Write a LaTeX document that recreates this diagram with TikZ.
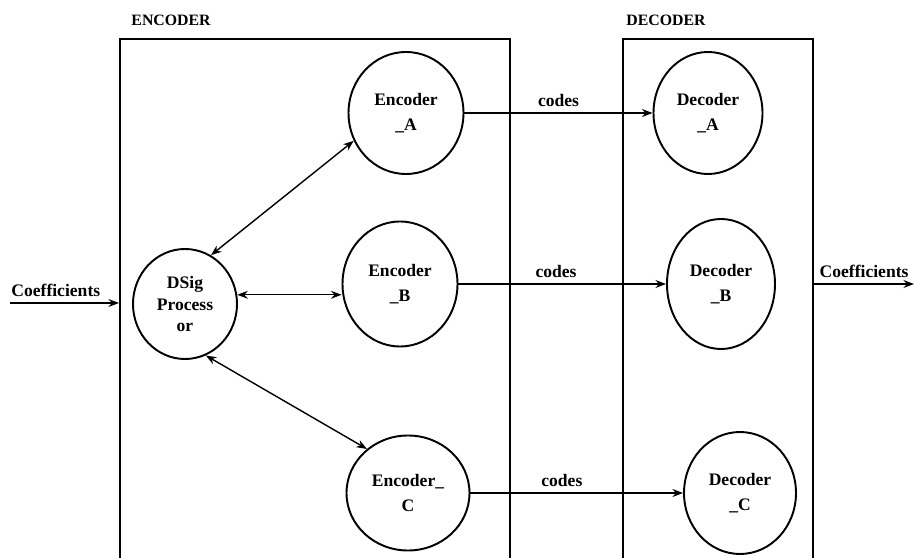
\documentclass[tikz,border=0pt]{standalone}
\usepackage{fontspec}
\setmainfont{Liberation Serif}
\usepackage{tikz}
\usetikzlibrary{shapes.geometric,arrows.meta}

\begin{document}
\begin{tikzpicture}[
    unit/.style={draw, ellipse, line width=1.1pt, inner sep=0pt, minimum width=2.3cm, minimum height=2.44cm, align=center, font=\bfseries},
    panel/.style={draw, line width=1.2pt, anchor=north west, minimum height=10.8cm},
    tag/.style={font=\bfseries\small},
    arr/.style={-{Stealth[length=6pt, width=4.5pt]}, line width=0.8pt},
    dbl/.style={{Stealth[length=6pt, width=4.5pt]}-{Stealth[length=6pt, width=4.5pt]}, line width=0.8pt}
]
\useasboundingbox (0,0) rectangle (18.3,11.14);
\clip (0,0) rectangle (18.3,11.14);
\node[panel, minimum width=7.8cm] (enc) at (2.38,10.38) {};
\node[panel, minimum width=3.8cm] (dec) at (12.44,10.38) {};
\node[tag] at (3.42,10.74) {ENCODER};
\node[tag] at (13.32,10.74) {DECODER};

\node[unit, minimum width=2.08cm, minimum height=2.2cm] (dsig) at (3.7,5.06) {DSig\\Process\\or};
\node[unit] (encA) at (8.12,8.88) {Encoder\\[2pt]\_A};
\node[unit, minimum height=2.5cm] (encB) at (8.0,5.46) {Encoder\\[2pt]\_B};
\node[unit, minimum width=2.46cm, minimum height=2.3cm] (encC) at (8.16,1.28) {Encoder\_\\[2pt]C};
\node[unit, minimum width=2.18cm] (decA) at (14.16,8.88) {Decoder\\[2pt]\_A};
\node[unit, minimum width=2.16cm, minimum height=2.6cm] (decB) at (14.42,5.46) {Decoder\\[2pt]\_B};
\node[unit, minimum width=2.24cm] (decC) at (14.8,1.28) {Decoder\\[2pt]\_C};

\coordinate (src) at (0.2,5.08);
\coordinate (sink) at (18.28,5.46);

\draw[arr] (src) -- (src -| enc.west) node[pos=0.42, above] {\bfseries Coefficients};
\draw[dbl] (dsig.62) -- (encA.208);
\draw[dbl] (dsig.10) -- (dsig.10 -| encB.west);
\draw[dbl] (dsig.292) -- (encC.133);
\draw[arr] (encA) -- (decA) node[midway, above] {\bfseries codes};
\draw[arr] (encB) -- (decB) node[pos=0.47, above] {\bfseries codes};
\draw[arr] (encC) -- (decC) node[pos=0.43, above] {\bfseries codes};
\draw[arr] (dec.east |- sink) -- (sink) node[midway, above] {\bfseries Coefficients};
\end{tikzpicture}
\end{document}
